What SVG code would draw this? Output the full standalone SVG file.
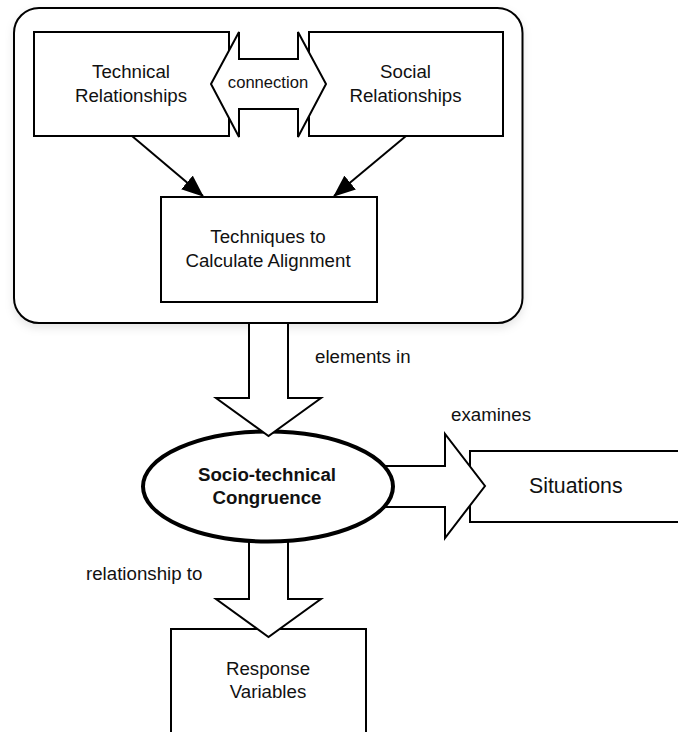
<svg xmlns="http://www.w3.org/2000/svg" width="678" height="732" viewBox="0 0 678 732">
  <defs>
    <style>
      .box { fill: #fff; stroke: #000; stroke-width: 2; }
      .fat { fill: #fff; stroke: #000; stroke-width: 2; stroke-linejoin: miter; }
      .txt { font-family: "Liberation Sans", Arial, Helvetica, sans-serif; font-size: 18.7px; fill: #111; }
      .mid { text-anchor: middle; }
      .bold { font-weight: bold; }
      .edge { fill: none; stroke: #000; stroke-width: 2; }
    </style>
    <marker id="head" markerUnits="userSpaceOnUse" markerWidth="22" markerHeight="18" refX="21" refY="9" orient="auto">
      <path d="M0,0 L22,9 L0,18 Z" fill="#000"/>
    </marker>
    <filter id="shadow" x="-5%" y="-5%" width="110%" height="115%">
      <feDropShadow dx="0" dy="4" stdDeviation="4" flood-color="#000" flood-opacity="0.1"/>
    </filter>
  </defs>

  <!-- container holding the three relationship boxes -->
  <g id="container">
    <rect x="14" y="8" width="508.5" height="315" rx="25" ry="25" class="box" filter="url(#shadow)"/>
  </g>

  <g id="technical">
    <rect x="34" y="32" width="195" height="104" class="box"/>
    <text class="txt mid" x="131" y="78">Technical</text>
    <text class="txt mid" x="131" y="101.5">Relationships</text>
  </g>

  <g id="social">
    <rect x="309" y="32" width="194" height="104" class="box"/>
    <text class="txt mid" x="405.5" y="78">Social</text>
    <text class="txt mid" x="405.5" y="101.5">Relationships</text>
  </g>

  <g id="techniques">
    <rect x="161" y="197" width="216" height="105" class="box"/>
    <text class="txt mid" x="268" y="242.5">Techniques to</text>
    <text class="txt mid" x="268" y="266.5">Calculate Alignment</text>
  </g>

  <g id="situations">
    <rect x="470" y="451" width="220" height="71" class="box"/>
    <text class="txt" x="529" y="493" style="font-size:21.3px">Situations</text>
  </g>

  <g id="response">
    <rect x="171" y="629" width="195" height="120" class="box"/>
    <text class="txt mid" x="268" y="675">Response</text>
    <text class="txt mid" x="268" y="698">Variables</text>
  </g>

  <g id="connectors">
    <!-- thin arrows into the techniques box -->
    <line x1="132" y1="136" x2="203" y2="196" class="edge" marker-end="url(#head)"/>
    <line x1="406" y1="136" x2="334" y2="196" class="edge" marker-end="url(#head)"/>

    <!-- two-headed block arrow between the relationship boxes -->
    <polygon class="fat" points="211,84 239,32 239,59 298,59 298,32 326,84 298,137 298,109 239,109 239,137"/>
    <text class="txt mid" x="268" y="88" style="font-size:16.6px">connection</text>

    <!-- block arrow to the situations box, tail hidden under the ellipse -->
    <polygon class="fat" points="380,466 445,466 445,434 485,486 445,538 445,507 380,507"/>
    <text class="txt" x="451" y="421">examines</text>

    <!-- block arrow to the response box, tail hidden under the ellipse -->
    <polygon class="fat" points="249,530 288,530 288,599 321,599 268.5,637 216,599 249,599"/>
    <text class="txt" x="86" y="580">relationship to</text>
  </g>

  <g id="congruence">
    <ellipse cx="268" cy="486.5" rx="125" ry="55" fill="#fff" stroke="#000" stroke-width="4"/>
    <text class="txt mid bold" x="267" y="481">Socio-technical</text>
    <text class="txt mid bold" x="267" y="504">Congruence</text>
  </g>

  <g id="connectors-top">
    <!-- block arrow from the container down into the ellipse -->
    <polygon class="fat" points="249,323 288,323 288,398 321,398 268.5,436 216,398 249,398"/>
    <text class="txt" x="315" y="363">elements in</text>
  </g>
</svg>
